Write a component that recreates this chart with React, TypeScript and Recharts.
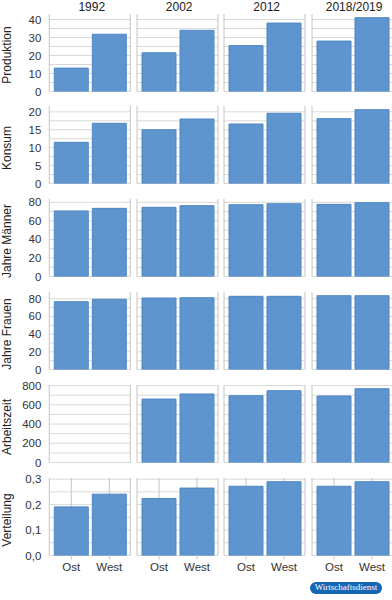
import { BarChart, Bar, XAxis, YAxis, CartesianGrid } from "recharts";

const categories = ["Ost", "West"];
const years = ["1992", "2002", "2012", "2018/2019"];

const produktionOst = [13, 21.5, 25.5, 28];
const produktionWest = [31.8, 34, 38, 41];
const konsumOst = [11.5, 15, 16.6, 18.1];
const konsumWest = [16.8, 18, 19.6, 20.6];
const maennerOst = [70.7, 74.6, 77.4, 77.8];
const maennerWest = [73.5, 76.4, 78.5, 79.6];
const frauenOst = [76.6, 80.8, 82.7, 83.4];
const frauenWest = [79.3, 81.1, 82.7, 83.4];
const arbeitszeitOst = [null, 660, 695, 692];
const arbeitszeitWest = [null, 713, 747, 768];
const verteilungOst = [0.191, 0.224, 0.272, 0.272];
const verteilungWest = [0.241, 0.265, 0.29, 0.29];

const produktionTicks = [0, 10, 20, 30, 40];
const konsumTicks = [0, 5, 10, 15, 20];
const jahreTicks = [0, 20, 40, 60, 80];
const arbeitszeitTicks = [0, 200, 400, 600, 800];
const verteilungTicks = [0, 0.1, 0.2, 0.3];

const rows = [
  { title: "Produktion", ost: produktionOst, west: produktionWest, ticks: produktionTicks, fmt: (v: number) => String(v) },
  { title: "Konsum", ost: konsumOst, west: konsumWest, ticks: konsumTicks, fmt: (v: number) => String(v) },
  { title: "Jahre Männer", ost: maennerOst, west: maennerWest, ticks: jahreTicks, fmt: (v: number) => String(v) },
  { title: "Jahre Frauen", ost: frauenOst, west: frauenWest, ticks: jahreTicks, fmt: (v: number) => String(v) },
  { title: "Arbeitszeit", ost: arbeitszeitOst, west: arbeitszeitWest, ticks: arbeitszeitTicks, fmt: (v: number) => String(v) },
  { title: "Verteilung", ost: verteilungOst, west: verteilungWest, ticks: verteilungTicks, fmt: (v: number) => v.toFixed(1).replace(".", ",") },
];

// layout (page px)
const FONT = "'Liberation Sans', Arial, sans-serif";
const plotLefts = [49.3, 136.7, 224.2, 311.6];
const plotW = 81;
const plotH = 77.5;
const zeroY0 = 91;
const rowPitch = 92.94;
const yAxisW = 49.3;

const barFill = "#5f95cf";
const barStroke = "#4e86c4";
const hGrid = "#d9d9d9";
const vGrid = "#c4c4c4";

function Panel({ r, c }: { r: number; c: number }) {
  const row = rows[r];
  const last = r === rows.length - 1;
  const data = categories.map((cat, i) => ({
    cat,
    v: i === 0 ? row.ost[c] : row.west[c],
  }));
  const allVals = [...row.ost, ...row.west].filter((v) => v != null) as number[];
  const top = Math.max(...allVals) * 1.05;
  const step = (row.ticks[1] - row.ticks[0]) / 2;
  const maxTick = row.ticks[row.ticks.length - 1];
  const gridValues: number[] = [];
  for (let i = 0; i * step <= maxTick + 1e-9; i++) gridValues.push(+(i * step).toFixed(4));

  const xH = last ? 24 : 4;
  const left = c === 0 ? plotLefts[0] - yAxisW : plotLefts[c];
  const width = c === 0 ? yAxisW + plotW : plotW;
  const topY = zeroY0 + r * rowPitch - plotH;

  return (
    <div style={{ position: "absolute", left, top: topY }}>
      <BarChart
        width={width}
        height={plotH + xH}
        data={data}
        margin={{ top: 0, right: 0, bottom: 0, left: 0 }}
        barSize={34}
      >
        <CartesianGrid horizontal vertical={false} stroke={hGrid} horizontalValues={gridValues} />
        <CartesianGrid horizontal={false} vertical stroke={vGrid} />
        <XAxis
          dataKey="cat"
          interval={0}
          padding={{ left: 3, right: 2 }}
          axisLine={false}
          tickSize={4}
          tickLine={{ stroke: vGrid }}
          tickMargin={3}
          height={xH}
          tick={last ? { fontSize: 11.5, fill: "#333", fontFamily: FONT } : false}
        />
        <YAxis
          type="number"
          domain={[0, top]}
          allowDataOverflow
          ticks={row.ticks}
          interval={0}
          hide={c !== 0}
          width={yAxisW}
          axisLine={false}
          tickLine={false}
          tickFormatter={row.fmt}
          tick={{ fontSize: 11.5, fill: "#333", fontFamily: FONT }}
        />
        <Bar dataKey="v" fill={barFill} stroke={barStroke} strokeWidth={1} isAnimationActive={false} />
      </BarChart>
    </div>
  );
}

export default function App() {
  return (
    <div
      style={{
        position: "absolute",
        left: 0,
        top: 0,
        width: 392,
        height: 600,
        background: "#fff",
        fontFamily: FONT,
        overflow: "hidden",
      }}
    >
      <style>{`svg { overflow: visible !important; } .recharts-wrapper { overflow: visible !important; }`}</style>

      {/* column headers */}
      {years.map((y, c) => (
        <div
          key={y}
          style={{
            position: "absolute",
            left: plotLefts[c] + 2,
            top: 0,
            width: plotW,
            textAlign: "center",
            fontSize: 12,
            lineHeight: "14px",
            color: "#222",
          }}
        >
          {y}
        </div>
      ))}

      {/* row titles */}
      {rows.map((row, r) => {
        const cy = zeroY0 + r * rowPitch - plotH / 2 + 3;
        return (
          <div
            key={row.title}
            style={{
              position: "absolute",
              left: 7 - 50,
              top: cy - 7,
              width: 100,
              height: 14,
              lineHeight: "14px",
              textAlign: "center",
              fontSize: 12,
              color: "#222",
              transform: "rotate(-90deg)",
              transformOrigin: "50% 50%",
              whiteSpace: "nowrap",
            }}
          >
            {row.title}
          </div>
        );
      })}

      {rows.map((row, r) =>
        years.map((y, c) => <Panel key={row.title + y} r={r} c={c} />)
      )}

      {/* logo */}
      <div
        style={{
          position: "absolute",
          left: 310,
          top: 582,
          width: 72,
          height: 11.5,
          borderRadius: 6,
          background: "#1566b5",
          color: "#fff",
          fontFamily: "'Liberation Serif', 'Times New Roman', serif",
          fontSize: 9,
          lineHeight: "11.5px",
          textAlign: "center",
        }}
      >
        Wirtschaftsdienst
      </div>
    </div>
  );
}
